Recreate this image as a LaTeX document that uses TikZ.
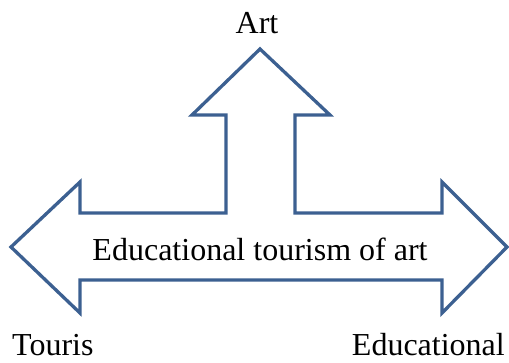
\documentclass[tikz,border=0pt]{standalone}
\usepackage{fontspec}
\setmainfont{Liberation Serif}
\definecolor{arrowblue}{RGB}{60,96,145}
\tikzset{
  arrowshape/.style={draw=arrowblue, line width=3.3pt, fill=white, line join=miter},
  lbl/.style={inner sep=0pt, font=\fontsize{32}{36}\selectfont, text=black}
}
\begin{document}
\begin{tikzpicture}[x=1pt,y=-1pt]
\useasboundingbox (0,0) rectangle (509,362);
\draw[arrowshape]
  (260,49) -- (330,115) -- (295,115) -- (295,213) -- (442,213) -- (442,182)
  -- (507,247) -- (442,313) -- (442,280) -- (80,280) -- (80,313) -- (11,247)
  -- (80,182) -- (80,213) -- (226,213) -- (226,115) -- (192,115) -- cycle;
\node[lbl, anchor=base] (art) at (257,33) {Art};
\node[lbl, anchor=base] (center) at (260,260) {Educational tourism of art};
\node[lbl, anchor=base west] (touris) at (12,355) {Touris};
\node[lbl, anchor=base east] (edu) at (505,355) {Educational};
\end{tikzpicture}
\end{document}
